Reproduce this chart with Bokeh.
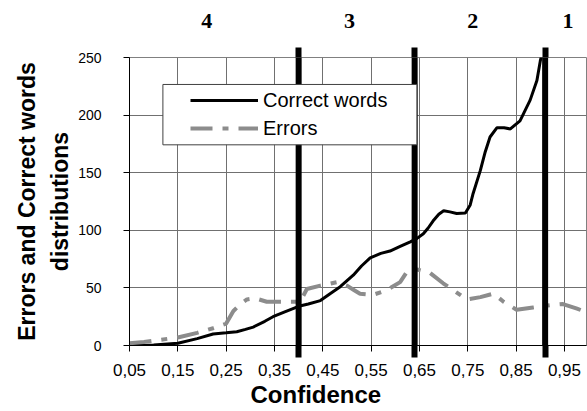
from bokeh.plotting import figure
from bokeh.models import (Range1d, FixedTicker, LinearAxis, Legend, LegendItem,
                          BoxAnnotation, Span, Title)
from bokeh.embed import file_html
from bokeh.resources import INLINE

# ---------------- data ----------------
confidence_correct = [0.05, 0.08, 0.10, 0.15, 0.19, 0.223, 0.25, 0.272, 0.29, 0.306,
                      0.33, 0.347, 0.37, 0.40, 0.42, 0.445, 0.465, 0.486, 0.513, 0.53,
                      0.548, 0.57, 0.589, 0.61, 0.631, 0.645, 0.658, 0.668, 0.678, 0.69,
                      0.70, 0.713, 0.727, 0.745, 0.755, 0.761, 0.776, 0.786, 0.796, 0.81,
                      0.825, 0.838, 0.858, 0.879, 0.893, 0.90, 0.91]
correct_words = [0, 0, 0.5, 2, 6, 10, 11, 12, 14, 16,
                 21, 25, 29, 34, 36, 39, 45, 51, 61, 69,
                 76, 80, 82, 86, 90, 93, 97, 102, 108, 114,
                 117, 116, 114.6, 115, 122, 132, 152, 168, 181, 189,
                 189, 188, 195, 213, 230, 247, 265]

confidence_errors = [0.05, 0.08, 0.15, 0.19, 0.223, 0.25, 0.265, 0.28, 0.293, 0.31,
                     0.334, 0.36, 0.403, 0.417, 0.445, 0.479, 0.50, 0.515, 0.527, 0.554,
                     0.582, 0.61, 0.624, 0.645, 0.672, 0.699, 0.72, 0.748, 0.776, 0.803,
                     0.824, 0.851, 0.885, 0.92, 0.947, 0.976, 0.995]
errors = [2, 3, 7, 11, 15, 19, 30, 36, 40, 41,
          38, 38, 38, 49, 52, 55, 52, 48, 45, 44,
          48, 55, 64, 66, 63, 54, 48, 40, 42, 45,
          38, 31, 33, 35, 36, 32, 29]

x_ticks = [0.05, 0.15, 0.25, 0.35, 0.45, 0.55, 0.65, 0.75, 0.85, 0.95]
x_tick_labels = ["0,05", "0,15", "0,25", "0,35", "0,45", "0,55", "0,65", "0,75", "0,85", "0,95"]
y_ticks = [0, 50, 100, 150, 200, 250]

zone_edges = [0.05, 0.40, 0.64, 0.91, 1.035]
zone_names = ["4", "3", "2", "1"]

# ---------------- figure ----------------
W, H = 587, 411
p = figure(width=W, height=H, output_backend="svg", toolbar_location=None,
           x_range=Range1d(0.05, 0.9956), y_range=Range1d(0, 250),
           min_border_left=129, min_border_right=1, min_border_top=57,
           min_border_bottom=66)
p.background_fill_color = "white"
p.border_fill_color = "white"
p.outline_line_color = "#808080"
p.outline_line_width = 1

for g in (p.xgrid, p.ygrid):
    g.grid_line_color = "#707070"
    g.grid_line_width = 1
p.xgrid.ticker = FixedTicker(ticks=x_ticks)
p.ygrid.ticker = FixedTicker(ticks=y_ticks)

boundaries = zone_edges[1:-1]

# bottom axis: thin major ticks with labels, thick minor ticks at zone boundaries
xa = p.xaxis[0]
xa.ticker = FixedTicker(ticks=x_ticks, minor_ticks=boundaries)
xa.major_label_overrides = {t: l for t, l in zip(x_ticks, x_tick_labels)}
xa.major_tick_in = 0
xa.major_tick_out = 6
xa.minor_tick_in = 0
xa.minor_tick_out = 12
xa.minor_tick_line_width = 6
xa.minor_tick_line_color = "black"
xa.axis_line_color = "black"
xa.major_tick_line_color = "black"
xa.major_label_text_font = "Liberation Sans"
xa.major_label_text_font_size = "17px"
xa.major_label_text_color = "black"
xa.major_label_standoff = 6

ya = p.yaxis[0]
ya.ticker = FixedTicker(ticks=y_ticks)
ya.minor_tick_line_color = None
ya.major_tick_in = 0
ya.major_tick_out = 6
ya.axis_line_color = "black"
ya.major_tick_line_color = "black"
ya.major_label_text_font = "Liberation Sans"
ya.major_label_text_font_size = "14px"
ya.major_label_text_color = "black"
ya.major_label_standoff = 22

# top axis: zone numbers as labels, thick minor ticks at the boundaries
zone_centers = [(zone_edges[i] + zone_edges[i + 1]) / 2 - 0.015 for i in range(len(zone_names))]
top = LinearAxis(ticker=FixedTicker(ticks=zone_centers, minor_ticks=boundaries))
top.major_label_overrides = {c: n for c, n in zip(zone_centers, zone_names)}
top.axis_line_color = None
top.major_tick_line_color = None
top.major_tick_in = 0
top.major_tick_out = 0
top.minor_tick_in = 0
top.minor_tick_out = 10
top.minor_tick_line_width = 6
top.minor_tick_line_color = "black"
top.major_label_text_font = "Liberation Serif"
top.major_label_text_font_style = "bold"
top.major_label_text_font_size = "22px"
top.major_label_text_color = "black"
top.major_label_standoff = 20
p.add_layout(top, "above")

# series
r_correct = p.line(confidence_correct, correct_words, line_color="black", line_width=3)
r_err = p.line(confidence_errors, errors, line_color="#8c8c8c", line_width=4,
               line_dash="22 10 6 10")

# zone boundaries inside the frame
for b in boundaries:
    p.add_layout(Span(location=b, dimension="height", line_width=6, line_color="black"))

# legend box + legend
p.add_layout(BoxAnnotation(left=0.1191, right=0.6447, bottom=174.2, top=226.6,
                           fill_color="white", fill_alpha=1.0,
                           line_color="#404040", line_width=1, line_alpha=1.0))
legend = Legend(items=[LegendItem(label="Correct words", renderers=[r_correct]),
                       LegendItem(label="Errors", renderers=[r_err])],
                location=(61, 203), padding=0, spacing=0, margin=0,
                glyph_width=68, glyph_height=28, label_height=28, label_standoff=5,
                label_text_font="Liberation Sans", label_text_font_size="20px",
                label_text_color="black", border_line_color=None,
                background_fill_alpha=0)
p.add_layout(legend)

# axis titles
p.add_layout(Title(text="distributions", align="center", standoff=6,
                   text_font="Liberation Sans", text_font_style="bold",
                   text_font_size="23px", text_color="black"), "left")
p.add_layout(Title(text="Errors and Correct words", align="center", standoff=4,
                   text_font="Liberation Sans", text_font_style="bold",
                   text_font_size="23px", text_color="black"), "left")
p.add_layout(Title(text="Confidence", align="left", offset=121, standoff=0,
                   text_font="Liberation Sans", text_font_style="bold",
                   text_font_size="24px", text_color="black", text_line_height=1.0),
             "below")

open("out.html", "w").write(file_html(p, INLINE))
